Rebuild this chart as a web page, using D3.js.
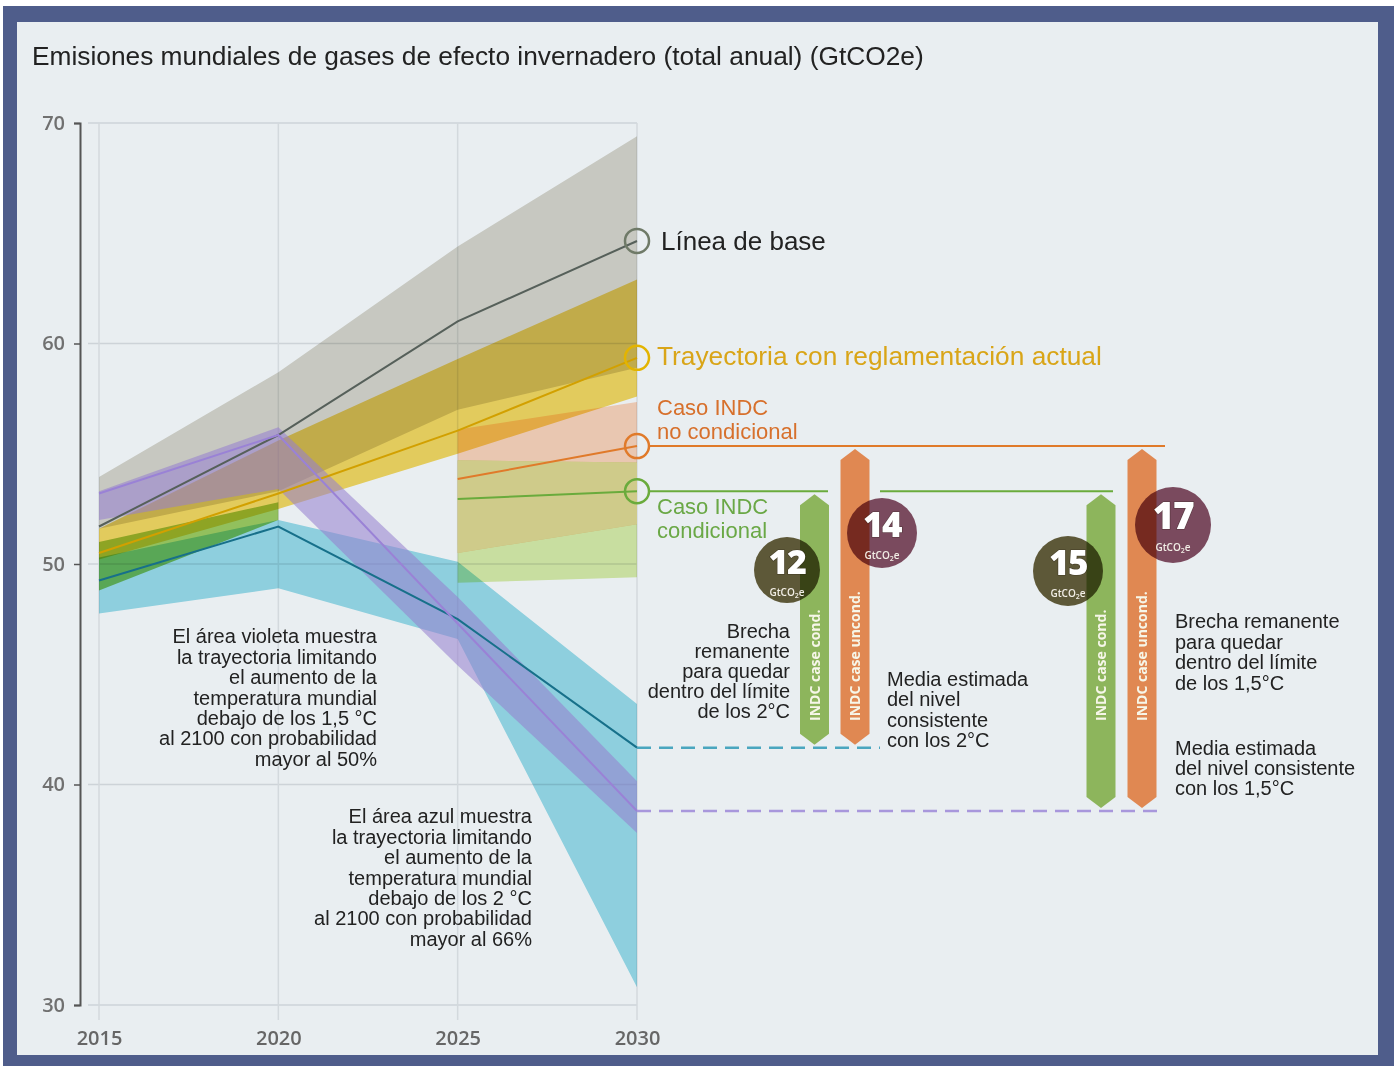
<!DOCTYPE html>
<html><head><meta charset="utf-8">
<script src="https://cdn.jsdelivr.net/npm/d3@7"></script>
<style>body{margin:0;background:#fff}svg{display:block}</style>
</head><body>
<svg id="c" width="1398" height="1066"></svg>
<script>
// ---------- DATA ----------
const years = [2015, 2020, 2025, 2030];
const yTicks = [30, 40, 50, 60, 70];
const baselineLine = [51.7, 55.85, 61.0, 64.65];
const baselineLow  = [51.6, 53.3, 57.0, 58.9];
const baselineHigh = [53.95, 58.7, 64.4, 69.4];
const currentLine = [50.5, 53.2, 56.05, 59.35];
const currentLow  = [50.2, 52.5, 55.0, 57.6];
const currentHigh = [51.6, 55.6, 59.3, 62.9];
const indcYears = [2025, 2030];
const uncondLine = [53.85, 55.35];
const uncondLow  = [50.5, 51.8];
const uncondHigh = [56.1, 57.35];
const condLine = [52.95, 53.3];
const condLow  = [49.15, 49.4];
const condHigh = [54.7, 54.6];
const histYears = [2015, 2020];
const histLow  = [48.8, 52.0];
const histHigh = [51.0, 52.8];
const twoLine = [49.25, 51.7, 47.5, 41.67];
const twoLow  = [47.75, 48.9, 46.6, 30.8];
const twoHigh = [50.3, 52.0, 50.1, 43.65];
const onefiveLine = [53.2, 55.85, 47.3, 38.8];
const onefiveLow  = [52.0, 53.4, 45.4, 37.8];
const onefiveHigh = [53.3, 56.2, 48.5, 40.15];
const gapValues = [12, 14, 15, 17];
const gapUnit = "GtCO";

// ---------- SETUP ----------
const svg = d3.select("#c");
const x = d3.scaleLinear().domain([2015, 2030]).range([99, 637]);
const y = d3.scaleLinear().domain([30, 70]).range([1005, 123]);
const SANS = "'Liberation Sans', Arial, sans-serif";
const OPEN = "'Open Sans', 'Noto Sans', sans-serif";

svg.append("rect").attr("x",0).attr("y",0).attr("width",1398).attr("height",1066).attr("fill","#fff");
svg.append("rect").attr("x",3).attr("y",6).attr("width",1391).attr("height",1060).attr("fill","#4f5d8b");
svg.append("rect").attr("x",17).attr("y",22).attr("width",1361).attr("height",1033).attr("fill","#e9eef1");

svg.append("text").attr("x",32).attr("y",65).attr("font-family",SANS).attr("font-size",26.3)
  .attr("fill","#222").text("Emisiones mundiales de gases de efecto invernadero (total anual) (GtCO2e)");

// gridlines
svg.append("g").selectAll("line").data(yTicks).join("line")
  .attr("x1",88).attr("x2",x(2030)).attr("y1",d=>y(d)).attr("y2",d=>y(d))
  .attr("stroke","#cdd3d8").attr("stroke-width",1.5);
svg.append("g").selectAll("line").data(years).join("line")
  .attr("x1",d=>x(d)).attr("x2",d=>x(d)).attr("y1",y(70)).attr("y2",y(30)+15)
  .attr("stroke","#d3d9dd").attr("stroke-width",1.5);

// axes
const ya = svg.append("g").attr("transform","translate(80,0)")
  .call(d3.axisLeft(y).tickValues(yTicks).tickSize(6).tickPadding(9));
ya.select(".domain").attr("stroke","#555").attr("stroke-width",2);
ya.selectAll(".tick line").attr("stroke","#555").attr("stroke-width",1.5);
ya.selectAll("text").attr("font-family",OPEN).attr("font-size",20).attr("font-weight",600).attr("fill","#707070");

const xa = svg.append("g").attr("transform","translate(0,1031)")
  .call(d3.axisBottom(x).tickValues(years).tickFormat(d3.format("d")).tickSize(0).tickPadding(0));
xa.select(".domain").remove();
xa.selectAll("text").attr("font-family",OPEN).attr("font-size",20).attr("font-weight",600).attr("fill","#666");

// ---------- BANDS ----------
function band(yrs, lo, hi){ return yrs.map((yr,i)=>({yr, lo:lo[i], hi:hi[i]})); }
const area = d3.area().x(d=>x(d.yr)).y0(d=>y(d.lo)).y1(d=>y(d.hi));
const interLow = condLow.map((v,i)=>Math.max(v, uncondLow[i]));
const interHigh = condHigh.map((v,i)=>Math.min(v, uncondHigh[i]));
const bands = [
  {d: band(years, baselineLow, baselineHigh), fill:"#dad7cd", blend:"multiply"},
  {d: band(years, currentLow, currentHigh), fill:"#f8da62", blend:"multiply"},
  {d: band(indcYears, uncondLow, uncondHigh), fill:"#ffd5bc", blend:"multiply"},
  {d: band(indcYears, condLow, condHigh), fill:"#dbeea9", blend:"multiply"},
  {d: band(indcYears, interLow, interHigh), fill:"#cfcb8a", blend:"normal"},
  {d: band(histYears, histLow, histHigh), fill:"#a0ce62", blend:"multiply"},
  {d: band(years, twoLow, twoHigh), fill:"#9bdeeb", blend:"multiply"},
  {d: band(years, onefiveLow, onefiveHigh), fill:"#957fcf", blend:"normal", op:0.56}
];
svg.append("g").selectAll("path").data(bands).join("path")
  .attr("d",b=>area(b.d)).attr("fill",b=>b.fill)
  .attr("fill-opacity",b=>b.op||1).style("mix-blend-mode",b=>b.blend);

// ---------- LINES ----------
const line = d3.line().x(d=>x(d.yr)).y(d=>y(d.v));
function ser(yrs, vals){ return yrs.map((yr,i)=>({yr, v:vals[i]})); }
const lines = [
  {d: ser(years, baselineLine), c:"#56605a"},
  {d: ser(years, currentLine), c:"#d2a000"},
  {d: ser(indcYears, uncondLine), c:"#e07a2a"},
  {d: ser(indcYears, condLine), c:"#6aab3c"},
  {d: ser(years, twoLine), c:"#17708a"},
  {d: ser(years, onefiveLine), c:"#9a82d6"}
];
svg.append("g").selectAll("path").data(lines).join("path")
  .attr("d",l=>line(l.d)).attr("fill","none").attr("stroke",l=>l.c).attr("stroke-width",2);

// extension lines from 2030
const xEnd = x(2030);
const ext = svg.append("g");
ext.append("line").attr("x1",xEnd+12).attr("x2",1165).attr("y1",y(uncondLine[1])).attr("y2",y(uncondLine[1]))
  .attr("stroke","#e07a2a").attr("stroke-width",2);
[[xEnd+12,828],[880,1113]].forEach(s=>ext.append("line").attr("x1",s[0]).attr("x2",s[1])
  .attr("y1",y(condLine[1])).attr("y2",y(condLine[1])).attr("stroke","#6aab3c").attr("stroke-width",2));
ext.append("line").attr("x1",xEnd).attr("x2",880).attr("y1",y(twoLine[3])).attr("y2",y(twoLine[3]))
  .attr("stroke","#4aa6bf").attr("stroke-width",2.5).attr("stroke-dasharray","14,8");
ext.append("line").attr("x1",xEnd).attr("x2",1165).attr("y1",y(onefiveLine[3])).attr("y2",y(onefiveLine[3]))
  .attr("stroke","#a897dc").attr("stroke-width",2.5).attr("stroke-dasharray","14,8");

// end circles
const circ = [
  {v: baselineLine[3], c:"#6f7a68"},
  {v: currentLine[3], c:"#e3b400"},
  {v: uncondLine[1], c:"#e07a2a"},
  {v: condLine[1], c:"#6aab3c"}
];
svg.append("g").selectAll("circle").data(circ).join("circle")
  .attr("cx",xEnd).attr("cy",d=>y(d.v)).attr("r",12).attr("fill","none")
  .attr("stroke",d=>d.c).attr("stroke-width",2.5);

// series labels
function label(xp, yp, lines, size, color, anchor, pitch){
  const t = svg.append("text").attr("x",xp).attr("y",yp).attr("font-family",SANS)
    .attr("font-size",size).attr("fill",color).attr("text-anchor",anchor||"start");
  lines.forEach((s,i)=>t.append("tspan").attr("x",xp).attr("y",yp+i*(pitch||size)).text(s));
}
label(661, y(baselineLine[3])+9, ["Línea de base"], 26, "#222");
label(657, y(currentLine[3])+7, ["Trayectoria con reglamentación actual"], 26.3, "#d9a518");
label(657, 415, ["Caso INDC","no condicional"], 22, "#d7702c", "start", 23.5);
label(657, 514, ["Caso INDC","condicional"], 22, "#6aa846", "start", 23.5);

// ---------- GAP BARS ----------
const bars = [
  {cx:814.5, top:condLine[1], bot:twoLine[3], c:"#8db55c", t:"INDC case cond."},
  {cx:855, top:uncondLine[1], bot:twoLine[3], c:"#e08852", t:"INDC case uncond."},
  {cx:1101, top:condLine[1], bot:onefiveLine[3], c:"#8db55c", t:"INDC case cond."},
  {cx:1142, top:uncondLine[1], bot:onefiveLine[3], c:"#e08852", t:"INDC case uncond."}
];
const bw = 29, tip = 11;
function barPath(b){
  const t = y(b.top)+3, bt = y(b.bot)-3, l = b.cx-bw/2, r = b.cx+bw/2;
  return `M${l},${t+tip}L${b.cx},${t}L${r},${t+tip}L${r},${bt-tip}L${b.cx},${bt}L${l},${bt-tip}Z`;
}
const bg = svg.append("g");
bg.selectAll("path").data(bars).join("path").attr("d",barPath).attr("fill",b=>b.c);
bg.selectAll("text").data(bars).join("text")
  .attr("transform",b=>`translate(${b.cx+5},721) rotate(-90)`)
  .attr("font-family",OPEN).attr("font-weight",700).attr("font-size",14)
  .attr("fill","#f6f6e8").text(b=>b.t);

// ---------- BUBBLES ----------
const bubbles = [
  {v:gapValues[0], cx:787, cy:570, r:33, c:"#665e3b", fs:34},
  {v:gapValues[1], cx:882, cy:533, r:35, c:"#864f63", fs:35},
  {v:gapValues[2], cx:1068, cy:571, r:35, c:"#665e3b", fs:35},
  {v:gapValues[3], cx:1173, cy:525, r:38, c:"#864f63", fs:37}
];
const bb = svg.append("g");
bb.selectAll("circle").data(bubbles).join("circle")
  .attr("cx",d=>d.cx).attr("cy",d=>d.cy).attr("r",d=>d.r).attr("fill",d=>d.c)
  .style("mix-blend-mode","multiply");
bb.selectAll("text.num").data(bubbles).join("text").attr("class","num")
  .attr("x",d=>d.cx).attr("y",d=>d.cy+4).attr("text-anchor","middle")
  .attr("font-family",OPEN).attr("font-weight",800).attr("font-size",d=>d.fs)
  .attr("letter-spacing",-1.5).attr("fill","#fff")
  .attr("stroke","rgba(40,30,20,0.5)").attr("stroke-width",1.2).attr("paint-order","stroke")
  .text(d=>d.v);
const ut = bb.selectAll("text.unit").data(bubbles).join("text").attr("class","unit")
  .attr("x",d=>d.cx).attr("y",d=>d.cy+26).attr("text-anchor","middle")
  .attr("font-family",OPEN).attr("font-weight",600).attr("font-size",10).attr("fill","#f2eee6");
ut.append("tspan").text(gapUnit);
ut.append("tspan").attr("font-size",7).attr("dy",2).text("2");
ut.append("tspan").attr("dy",-2).text("e");

// ---------- ANNOTATIONS ----------
const P = 20.4;
label(377, 643.3, ["El área violeta muestra","la trayectoria limitando","el aumento de la","temperatura mundial","debajo de los 1,5 °C","al 2100 con probabilidad","mayor al 50%"], 20, "#222", "end", P);
label(532, 823.3, ["El área azul muestra","la trayectoria limitando","el aumento de la","temperatura mundial","debajo de los 2 °C","al 2100 con probabilidad","mayor al 66%"], 20, "#222", "end", P);
label(790, 638.3, ["Brecha","remanente","para quedar","dentro del límite","de los 2°C"], 20, "#222", "end", 20);
label(887, 686, ["Media estimada","del nivel","consistente","con los 2°C"], 20, "#222", "start", 20.4);
label(1175, 628.3, ["Brecha remanente","para quedar","dentro del límite","de los 1,5°C"], 20, "#222", "start", 20.5);
label(1175, 755, ["Media estimada","del nivel consistente","con los 1,5°C"], 20, "#222", "start", 20);
</script>
</body></html>
